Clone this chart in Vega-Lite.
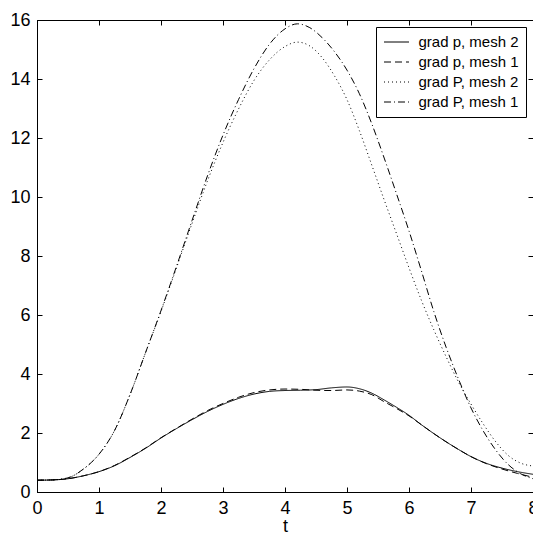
{
  "$schema": "https://vega.github.io/schema/vega-lite/v6.json",
  "width": 496,
  "height": 472,
  "autosize": {"type": "none"},
  "padding": {"left": 37, "top": 20, "right": 0, "bottom": 42},
  "background": "white",
  "config": {
    "view": {"stroke": "black", "strokeWidth": 1},
    "font": "Liberation Sans",
    "axis": {
      "grid": false,
      "domain": true,
      "domainColor": "black",
      "tickColor": "black",
      "tickSize": -5,
      "labelFont": "Liberation Sans",
      "labelFontSize": 18,
      "labelColor": "black",
      "labelFlush": false,
      "labelOverlap": false,
      "titleFont": "Liberation Sans",
      "titleFontSize": 18,
      "titleFontWeight": "normal",
      "titleColor": "black"
    }
  },
  "data": {
    "values": [
      {"series": "grad p, mesh 2", "t": 0, "v": 0.40},
      {"series": "grad p, mesh 2", "t": 0.25, "v": 0.41},
      {"series": "grad p, mesh 2", "t": 0.5, "v": 0.45},
      {"series": "grad p, mesh 2", "t": 0.75, "v": 0.55},
      {"series": "grad p, mesh 2", "t": 1.0, "v": 0.69},
      {"series": "grad p, mesh 2", "t": 1.25, "v": 0.89},
      {"series": "grad p, mesh 2", "t": 1.5, "v": 1.17},
      {"series": "grad p, mesh 2", "t": 1.75, "v": 1.48},
      {"series": "grad p, mesh 2", "t": 2.0, "v": 1.83},
      {"series": "grad p, mesh 2", "t": 2.25, "v": 2.15},
      {"series": "grad p, mesh 2", "t": 2.5, "v": 2.45},
      {"series": "grad p, mesh 2", "t": 2.75, "v": 2.73},
      {"series": "grad p, mesh 2", "t": 3.0, "v": 2.97},
      {"series": "grad p, mesh 2", "t": 3.25, "v": 3.17},
      {"series": "grad p, mesh 2", "t": 3.5, "v": 3.32},
      {"series": "grad p, mesh 2", "t": 3.75, "v": 3.41},
      {"series": "grad p, mesh 2", "t": 4.0, "v": 3.44},
      {"series": "grad p, mesh 2", "t": 4.25, "v": 3.45},
      {"series": "grad p, mesh 2", "t": 4.5, "v": 3.47},
      {"series": "grad p, mesh 2", "t": 4.75, "v": 3.53},
      {"series": "grad p, mesh 2", "t": 5.0, "v": 3.56},
      {"series": "grad p, mesh 2", "t": 5.2, "v": 3.50},
      {"series": "grad p, mesh 2", "t": 5.4, "v": 3.35},
      {"series": "grad p, mesh 2", "t": 5.6, "v": 3.12},
      {"series": "grad p, mesh 2", "t": 5.8, "v": 2.87},
      {"series": "grad p, mesh 2", "t": 6.0, "v": 2.60},
      {"series": "grad p, mesh 2", "t": 6.2, "v": 2.28},
      {"series": "grad p, mesh 2", "t": 6.4, "v": 1.98},
      {"series": "grad p, mesh 2", "t": 6.6, "v": 1.70},
      {"series": "grad p, mesh 2", "t": 6.8, "v": 1.44},
      {"series": "grad p, mesh 2", "t": 7.0, "v": 1.20},
      {"series": "grad p, mesh 2", "t": 7.25, "v": 0.97},
      {"series": "grad p, mesh 2", "t": 7.5, "v": 0.81},
      {"series": "grad p, mesh 2", "t": 7.75, "v": 0.69},
      {"series": "grad p, mesh 2", "t": 8.0, "v": 0.60},

      {"series": "grad p, mesh 1", "t": 0, "v": 0.40},
      {"series": "grad p, mesh 1", "t": 0.25, "v": 0.41},
      {"series": "grad p, mesh 1", "t": 0.5, "v": 0.45},
      {"series": "grad p, mesh 1", "t": 0.75, "v": 0.55},
      {"series": "grad p, mesh 1", "t": 1.0, "v": 0.69},
      {"series": "grad p, mesh 1", "t": 1.25, "v": 0.90},
      {"series": "grad p, mesh 1", "t": 1.5, "v": 1.18},
      {"series": "grad p, mesh 1", "t": 1.75, "v": 1.49},
      {"series": "grad p, mesh 1", "t": 2.0, "v": 1.84},
      {"series": "grad p, mesh 1", "t": 2.25, "v": 2.16},
      {"series": "grad p, mesh 1", "t": 2.5, "v": 2.47},
      {"series": "grad p, mesh 1", "t": 2.75, "v": 2.76},
      {"series": "grad p, mesh 1", "t": 3.0, "v": 3.00},
      {"series": "grad p, mesh 1", "t": 3.25, "v": 3.21},
      {"series": "grad p, mesh 1", "t": 3.5, "v": 3.37},
      {"series": "grad p, mesh 1", "t": 3.75, "v": 3.46},
      {"series": "grad p, mesh 1", "t": 4.0, "v": 3.49},
      {"series": "grad p, mesh 1", "t": 4.25, "v": 3.48},
      {"series": "grad p, mesh 1", "t": 4.5, "v": 3.45},
      {"series": "grad p, mesh 1", "t": 4.75, "v": 3.44},
      {"series": "grad p, mesh 1", "t": 5.0, "v": 3.46},
      {"series": "grad p, mesh 1", "t": 5.2, "v": 3.42},
      {"series": "grad p, mesh 1", "t": 5.4, "v": 3.30},
      {"series": "grad p, mesh 1", "t": 5.6, "v": 3.06},
      {"series": "grad p, mesh 1", "t": 5.8, "v": 2.83},
      {"series": "grad p, mesh 1", "t": 6.0, "v": 2.58},
      {"series": "grad p, mesh 1", "t": 6.2, "v": 2.28},
      {"series": "grad p, mesh 1", "t": 6.4, "v": 1.98},
      {"series": "grad p, mesh 1", "t": 6.6, "v": 1.70},
      {"series": "grad p, mesh 1", "t": 6.8, "v": 1.44},
      {"series": "grad p, mesh 1", "t": 7.0, "v": 1.20},
      {"series": "grad p, mesh 1", "t": 7.25, "v": 0.96},
      {"series": "grad p, mesh 1", "t": 7.5, "v": 0.78},
      {"series": "grad p, mesh 1", "t": 7.75, "v": 0.63},
      {"series": "grad p, mesh 1", "t": 8.0, "v": 0.50},

      {"series": "grad P, mesh 2", "t": 0, "v": 0.40},
      {"series": "grad P, mesh 2", "t": 0.25, "v": 0.41},
      {"series": "grad P, mesh 2", "t": 0.5, "v": 0.48},
      {"series": "grad P, mesh 2", "t": 0.75, "v": 0.78},
      {"series": "grad P, mesh 2", "t": 1.0, "v": 1.28},
      {"series": "grad P, mesh 2", "t": 1.25, "v": 2.08},
      {"series": "grad P, mesh 2", "t": 1.5, "v": 3.30},
      {"series": "grad P, mesh 2", "t": 1.75, "v": 4.72},
      {"series": "grad P, mesh 2", "t": 2.0, "v": 6.12},
      {"series": "grad P, mesh 2", "t": 2.25, "v": 7.60},
      {"series": "grad P, mesh 2", "t": 2.5, "v": 9.10},
      {"series": "grad P, mesh 2", "t": 2.75, "v": 10.55},
      {"series": "grad P, mesh 2", "t": 3.0, "v": 11.85},
      {"series": "grad P, mesh 2", "t": 3.25, "v": 12.98},
      {"series": "grad P, mesh 2", "t": 3.5, "v": 13.95},
      {"series": "grad P, mesh 2", "t": 3.75, "v": 14.65},
      {"series": "grad P, mesh 2", "t": 4.0, "v": 15.10},
      {"series": "grad P, mesh 2", "t": 4.2, "v": 15.25},
      {"series": "grad P, mesh 2", "t": 4.4, "v": 15.12},
      {"series": "grad P, mesh 2", "t": 4.6, "v": 14.72},
      {"series": "grad P, mesh 2", "t": 4.8, "v": 14.10},
      {"series": "grad P, mesh 2", "t": 5.0, "v": 13.30},
      {"series": "grad P, mesh 2", "t": 5.2, "v": 12.25},
      {"series": "grad P, mesh 2", "t": 5.4, "v": 11.08},
      {"series": "grad P, mesh 2", "t": 5.6, "v": 9.90},
      {"series": "grad P, mesh 2", "t": 5.8, "v": 8.75},
      {"series": "grad P, mesh 2", "t": 6.0, "v": 7.60},
      {"series": "grad P, mesh 2", "t": 6.2, "v": 6.50},
      {"series": "grad P, mesh 2", "t": 6.4, "v": 5.50},
      {"series": "grad P, mesh 2", "t": 6.6, "v": 4.58},
      {"series": "grad P, mesh 2", "t": 6.8, "v": 3.72},
      {"series": "grad P, mesh 2", "t": 7.0, "v": 2.98},
      {"series": "grad P, mesh 2", "t": 7.2, "v": 2.30},
      {"series": "grad P, mesh 2", "t": 7.4, "v": 1.70},
      {"series": "grad P, mesh 2", "t": 7.6, "v": 1.24},
      {"series": "grad P, mesh 2", "t": 7.8, "v": 0.98},
      {"series": "grad P, mesh 2", "t": 8.0, "v": 0.88},

      {"series": "grad P, mesh 1", "t": 0, "v": 0.40},
      {"series": "grad P, mesh 1", "t": 0.25, "v": 0.41},
      {"series": "grad P, mesh 1", "t": 0.5, "v": 0.48},
      {"series": "grad P, mesh 1", "t": 0.75, "v": 0.78},
      {"series": "grad P, mesh 1", "t": 1.0, "v": 1.28},
      {"series": "grad P, mesh 1", "t": 1.25, "v": 2.08},
      {"series": "grad P, mesh 1", "t": 1.5, "v": 3.30},
      {"series": "grad P, mesh 1", "t": 1.75, "v": 4.72},
      {"series": "grad P, mesh 1", "t": 2.0, "v": 6.15},
      {"series": "grad P, mesh 1", "t": 2.25, "v": 7.65},
      {"series": "grad P, mesh 1", "t": 2.5, "v": 9.20},
      {"series": "grad P, mesh 1", "t": 2.75, "v": 10.72},
      {"series": "grad P, mesh 1", "t": 3.0, "v": 12.10},
      {"series": "grad P, mesh 1", "t": 3.25, "v": 13.30},
      {"series": "grad P, mesh 1", "t": 3.5, "v": 14.35},
      {"series": "grad P, mesh 1", "t": 3.75, "v": 15.18},
      {"series": "grad P, mesh 1", "t": 4.0, "v": 15.70},
      {"series": "grad P, mesh 1", "t": 4.2, "v": 15.87},
      {"series": "grad P, mesh 1", "t": 4.4, "v": 15.74},
      {"series": "grad P, mesh 1", "t": 4.6, "v": 15.40},
      {"series": "grad P, mesh 1", "t": 4.8, "v": 14.92},
      {"series": "grad P, mesh 1", "t": 5.0, "v": 14.30},
      {"series": "grad P, mesh 1", "t": 5.2, "v": 13.50},
      {"series": "grad P, mesh 1", "t": 5.4, "v": 12.48},
      {"series": "grad P, mesh 1", "t": 5.6, "v": 11.32},
      {"series": "grad P, mesh 1", "t": 5.8, "v": 10.10},
      {"series": "grad P, mesh 1", "t": 6.0, "v": 8.85},
      {"series": "grad P, mesh 1", "t": 6.2, "v": 7.50},
      {"series": "grad P, mesh 1", "t": 6.4, "v": 6.12},
      {"series": "grad P, mesh 1", "t": 6.6, "v": 4.90},
      {"series": "grad P, mesh 1", "t": 6.8, "v": 3.82},
      {"series": "grad P, mesh 1", "t": 7.0, "v": 2.85},
      {"series": "grad P, mesh 1", "t": 7.2, "v": 2.06},
      {"series": "grad P, mesh 1", "t": 7.4, "v": 1.42},
      {"series": "grad P, mesh 1", "t": 7.6, "v": 0.93},
      {"series": "grad P, mesh 1", "t": 7.8, "v": 0.62},
      {"series": "grad P, mesh 1", "t": 8.0, "v": 0.45}
    ]
  },
  "layer": [
    {
      "mark": {"type": "line", "interpolate": "monotone", "color": "black", "strokeWidth": 1, "clip": true},
      "encoding": {
        "x": {
          "field": "t", "type": "quantitative",
          "scale": {"domain": [0, 8], "nice": false, "zero": false},
          "axis": {"orient": "bottom", "values": [0, 1, 2, 3, 4, 5, 6, 7, 8], "format": "d", "labelPadding": 12, "title": "t", "titlePadding": 0}
        },
        "y": {
          "field": "v", "type": "quantitative",
          "scale": {"domain": [0, 16], "nice": false},
          "axis": {"orient": "left", "values": [0, 2, 4, 6, 8, 10, 12, 14, 16], "format": "d", "labelPadding": 12, "title": null}
        },
        "strokeDash": {
          "field": "series", "type": "nominal",
          "scale": {
            "domain": ["grad p, mesh 2", "grad p, mesh 1", "grad P, mesh 2", "grad P, mesh 1"],
            "range": [[1, 0], [7, 4], [1, 3], [7, 3, 1, 3]]
          },
          "legend": {
            "orient": "none", "legendX": 339, "legendY": 7,
            "title": null,
            "strokeColor": "black", "fillColor": "white",
            "padding": 7,
            "symbolType": "stroke", "symbolSize": 625,
            "symbolStrokeColor": "black", "symbolStrokeWidth": 1,
            "symbolOffset": 0.5,
            "labelOffset": 9,
            "labelFont": "Liberation Sans", "labelFontSize": 15, "labelColor": "black",
            "labelLimit": 0,
            "clipHeight": 16,
            "rowPadding": 4
          }
        }
      }
    },
    {
      "mark": {"type": "line", "opacity": 0},
      "encoding": {
        "x": {
          "field": "t", "type": "quantitative",
          "scale": {"domain": [0, 8], "nice": false, "zero": false},
          "axis": {"orient": "top", "values": [0, 1, 2, 3, 4, 5, 6, 7, 8], "labels": false, "title": null}
        },
        "y": {
          "field": "v", "type": "quantitative",
          "scale": {"domain": [0, 16], "nice": false},
          "axis": {"orient": "right", "values": [0, 2, 4, 6, 8, 10, 12, 14, 16], "labels": false, "title": null}
        },
        "detail": {"field": "series", "type": "nominal"}
      }
    }
  ],
  "resolve": {"axis": {"x": "independent", "y": "independent"}}
}
